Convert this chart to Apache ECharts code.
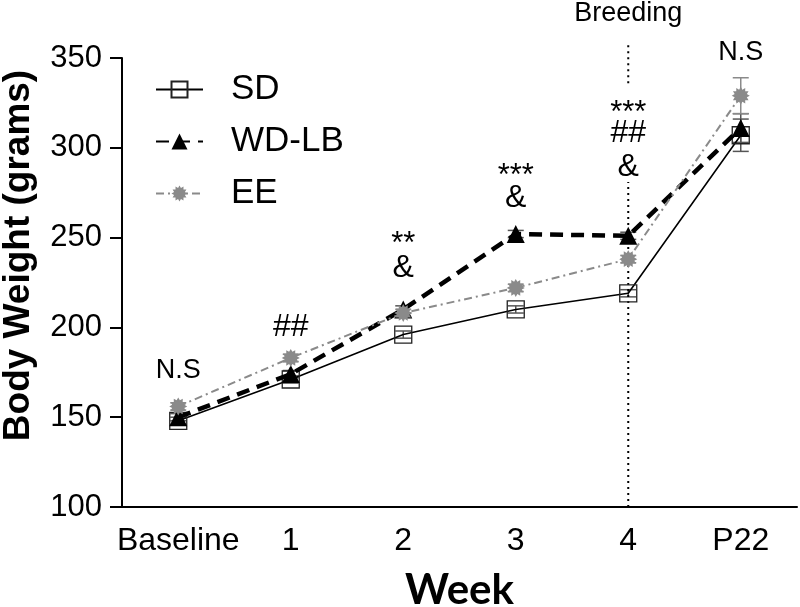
<!DOCTYPE html>
<html><head><meta charset="utf-8">
<script src="https://cdn.jsdelivr.net/npm/echarts@6/dist/echarts.min.js"></script>
<style>html,body{margin:0;padding:0;background:#fff}#c{width:800px;height:607px}</style>
</head><body><div id="c"></div>
<script>
// ---- data ----
const categories = ['Baseline', '1', '2', '3', '4', 'P22'];
const sdMean = [148, 171, 196, 210, 219, 307];
const sdErr  = [2, 2, 2, 2, 2, 9];
const wdMean = [150, 174, 210, 252, 251, 311];
const wdErr  = [2, 2, 2, 2, 2, 8];
const eeMean = [156, 183, 208, 222, 238, 329];
const eeErr  = [2, 2, 2, 2, 2, 10];
const yMin = 100, yMax = 350, yStep = 50;
// significance annotations: [category, y value, text]
const annotations = [
  ['Baseline', 176, 'N.S'],
  ['1', 200, '##'],
  ['2', 246, '**'],
  ['2', 233, '&'],
  ['3', 284, '***'],
  ['3', 272, '&'],
  ['4', 319, '***'],
  ['4', 308, '##'],
  ['4', 289, '&'],
  ['P22', 353, 'N.S']
];
const breedingLabel = ['4', 374.5, 'Breeding'];
const breedingLower = [100, 281];
const breedingUpper = [336, 358.5];

// ---- helpers ----
function starPath(n, r1, r2) {
  let d = '';
  for (let i = 0; i < 2 * n; i++) {
    const r = i % 2 ? r2 : r1;
    const a = Math.PI * i / n - Math.PI / 2;
    d += (i ? 'L' : 'M') + (10 + r * Math.cos(a)).toFixed(2) + ',' + (10 + r * Math.sin(a)).toFixed(2);
  }
  return 'path://' + d + 'Z';
}
function errData(mean, err) { return mean.map((m, i) => [i, m - err[i], m + err[i]]); }
function errRender(color) {
  return function (params, api) {
    const x = api.value(0);
    const lo = api.coord([x, api.value(1)]);
    const hi = api.coord([x, api.value(2)]);
    const hw = 8;
    const st = { stroke: color, lineWidth: 1.5 };
    return { type: 'group', children: [
      { type: 'line', shape: { x1: lo[0], y1: lo[1], x2: hi[0], y2: hi[1] }, style: st },
      { type: 'line', shape: { x1: lo[0] - hw, y1: lo[1], x2: lo[0] + hw, y2: lo[1] }, style: st },
      { type: 'line', shape: { x1: hi[0] - hw, y1: hi[1], x2: hi[0] + hw, y2: hi[1] }, style: st }
    ]};
  };
}
const FONT = '"Liberation Sans", Arial, sans-serif';
const annFont = { 'N.S': 27, '##': 32, '**': 31, '***': 31, '&': 32 };

const chart = echarts.init(document.getElementById('c'), null, { renderer: 'canvas' });
const option = {
  backgroundColor: '#fff',
  animation: false,
  textStyle: { fontFamily: FONT },
  grid: { left: 122, right: 3, top: 58, bottom: 100, containLabel: false, outerBoundsMode: 'none' },
  legend: {
    orient: 'vertical', left: 155, top: 72,
    itemWidth: 47, itemHeight: 20, itemGap: 17, padding: 0,
    textStyle: { fontSize: 35, color: '#000', fontFamily: FONT, padding: [0, 0, 0, 23] },
    data: ['SD', 'WD-LB', 'EE']
  },
  xAxis: {
    type: 'category', data: categories, boundaryGap: true,
    name: 'Week', nameLocation: 'middle', nameGap: 62,
    nameTextStyle: { fontSize: 42, fontWeight: 'bold', fontFamily: 'Lato, "Open Sans", sans-serif', color: '#000' },
    axisLine: { lineStyle: { color: '#000', width: 2 } },
    axisTick: { alignWithLabel: true, length: 12, lineStyle: { color: '#000', width: 2 } },
    axisLabel: { fontSize: 32, color: '#000', margin: 18, interval: 0 },
    splitLine: { show: false }
  },
  yAxis: {
    type: 'value', min: yMin, max: yMax, interval: yStep,
    name: 'Body Weight (grams)', nameLocation: 'middle', nameGap: 85,
    nameTextStyle: { fontSize: 37, fontWeight: 'bold', color: '#000', padding: [0, 0, 0, 54] },
    axisLine: { show: true, lineStyle: { color: '#000', width: 2 } },
    axisTick: { show: true, length: 12, lineStyle: { color: '#000', width: 2 } },
    axisLabel: { fontSize: 31, color: '#000', margin: 20 },
    splitLine: { show: false }
  },
  series: [
    { type: 'custom', name: 'sdErr', renderItem: errRender('#555'), data: errData(sdMean, sdErr), encode: { x: 0, y: [1, 2] }, z: 1, silent: true },
    { type: 'custom', name: 'wdErr', renderItem: errRender('#555'), data: errData(wdMean, wdErr), encode: { x: 0, y: [1, 2] }, z: 1, silent: true },
    { type: 'custom', name: 'eeErr', renderItem: errRender('#8a8a8a'), data: errData(eeMean, eeErr), encode: { x: 0, y: [1, 2] }, z: 1, silent: true },
    { type: 'line', name: 'BreedLo', data: breedingLower.map(v => [breedingLabel[0], v]), symbol: 'none', clip: false, silent: true,
      lineStyle: { color: '#000', width: 2, type: [2, 4] }, z: 1 },
    { type: 'line', name: 'BreedHi', data: breedingUpper.map(v => [breedingLabel[0], v]), symbol: 'none', clip: false, silent: true,
      lineStyle: { color: '#000', width: 2, type: [2, 4] }, z: 1 },
    { type: 'line', name: 'SD', data: sdMean, symbol: 'rect', symbolSize: 17, z: 2,
      lineStyle: { color: '#000', width: 1.6, type: 'solid' },
      itemStyle: { color: 'rgba(255,255,255,0)', borderColor: '#222', borderWidth: 1.3 } },
    { type: 'line', name: 'WD-LB', data: wdMean, symbol: 'triangle', symbolSize: 18, z: 3,
      lineStyle: { color: '#000', width: 4.5, type: [13, 8] },
      itemStyle: { color: '#000' } },
    { type: 'line', name: 'EE', data: eeMean, symbol: starPath(12, 10, 7), symbolSize: 18, z: 4,
      lineStyle: { color: '#8a8a8a', width: 2, type: [8, 4, 2, 4] },
      itemStyle: { color: '#8a8a8a' } },
    { type: 'scatter', name: 'ann', symbolSize: 0, clip: false, silent: true, z: 5,
      itemStyle: { opacity: 1 },
      data: annotations.concat([breedingLabel]).map(a => ({
        value: [a[0], a[1]],
        label: { show: true, position: 'inside', formatter: a[2], color: '#000', opacity: 1,
                 fontSize: a[2] === 'Breeding' ? 27 : annFont[a[2]], fontFamily: FONT }
      })) }
  ]
};
chart.setOption(option);
</script>
</body></html>
